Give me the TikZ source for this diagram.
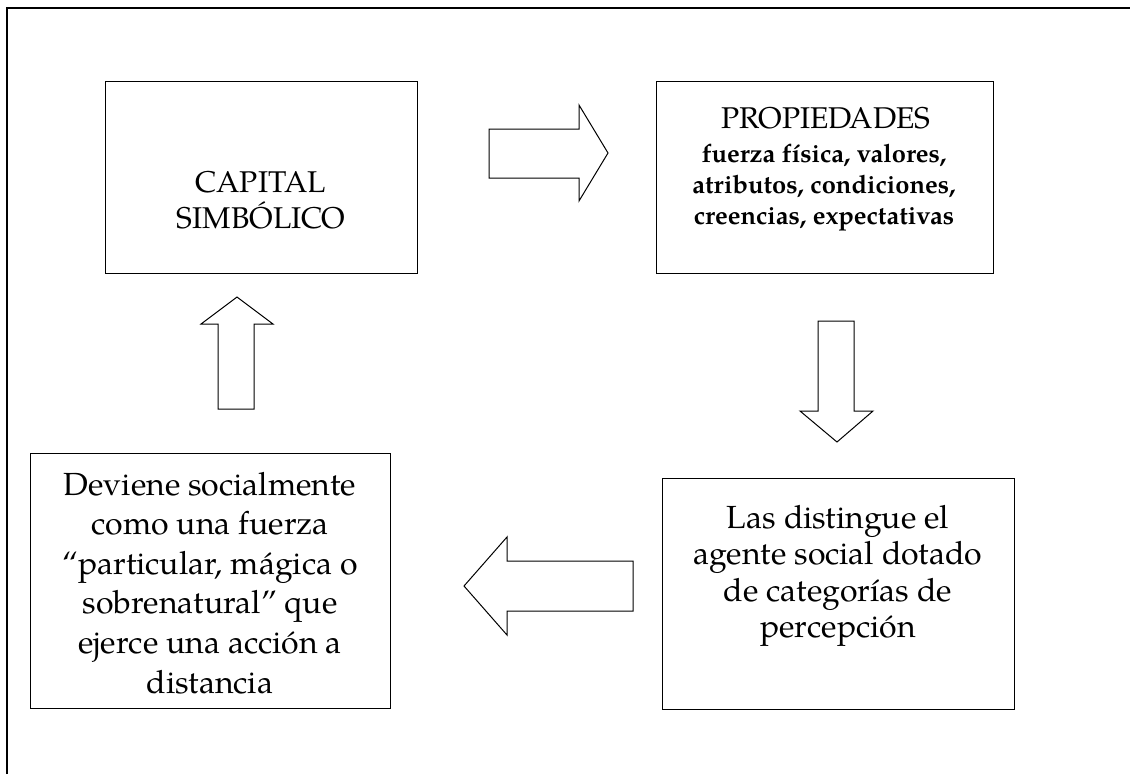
\documentclass[tikz,border=0pt]{standalone}
\usepackage{fontspec}
\setmainfont{texgyrepagella}[Extension=.otf, UprightFont=*-regular, BoldFont=*-bold, ItalicFont=*-italic, BoldItalicFont=*-bolditalic]
\begin{document}
\begin{tikzpicture}[x=1pt,y=-1pt]
\tikzset{
  boxnode/.style={draw, line width=1.3pt, inner sep=0pt, anchor=north west},
  blockarrow/.style={draw, line width=1pt, line join=miter},
  frameline/.style={line width=2pt},
  txt/.style={anchor=base, inner sep=0pt},
  titlefont/.style={font=\fontsize{30}{33}\selectfont},
  bodyfont/.style={font=\fontsize{32}{39.6}\selectfont},
  boldfont/.style={font=\fontsize{25.5}{31}\selectfont\bfseries},
}
\useasboundingbox (0,0) rectangle (1130,774);
% outer frame (top and left edges)
\coordinate (fl) at (7,774);
\coordinate (fc) at (7,7.5);
\coordinate (fr) at (1130,7.5);
\draw[frameline] (fl) -- (fc) -- (fr);
% boxes
\node[boxnode, minimum width=312pt, minimum height=192pt] (b1) at (105,81) {};
\node[boxnode, minimum width=337pt, minimum height=192pt] (b2) at (656,81) {};
\node[boxnode, minimum width=352pt, minimum height=231pt] (b3) at (662,478) {};
\node[boxnode, minimum width=360pt, minimum height=255pt] (b4) at (30,453) {};
% texts
\node[txt, titlefont] (t1) at (261,192) {\begin{tabular}[t]{@{}c@{}}CAPITAL\\SIMBÓLICO\end{tabular}};
\node[txt, font=\fontsize{30}{34}\selectfont] (t2a) at (826,128) {PROPIEDADES};
\node[txt, boldfont] (t2b) at (824,162) {\begin{tabular}[t]{@{}c@{}}fuerza física, valores,\\atributos, condiciones,\\creencias, expectativas\end{tabular}};
\node[txt, font=\fontsize{32}{36.5}\selectfont] (t3) at (838,528) {\begin{tabular}[t]{@{}c@{}}Las distingue el\\agente social dotado\\de categorías de\\percepción\end{tabular}};
\node[txt, bodyfont] (t4) at (210,495) {\begin{tabular}[t]{@{}c@{}}Deviene socialmente\\como una fuerza\\“particular, mágica o\\sobrenatural” que\\ejerce una acción a\\distancia\end{tabular}};
% block arrows
\draw[blockarrow] (489,129) -- (579,129) -- (579,105) -- (608,153) -- (579,201) -- (579,178) -- (489,178) -- cycle;
\draw[blockarrow] (818,321) -- (854,321) -- (854,411) -- (873,411) -- (837,442) -- (800,411) -- (818,411) -- cycle;
\draw[blockarrow] (633,561) -- (507,561) -- (507,537) -- (464,586) -- (507,635) -- (507,611) -- (633,611) -- cycle;
\draw[blockarrow] (218,409) -- (218,324) -- (201,324) -- (237,297) -- (273,324) -- (254,324) -- (254,409) -- cycle;
\end{tikzpicture}
\end{document}
